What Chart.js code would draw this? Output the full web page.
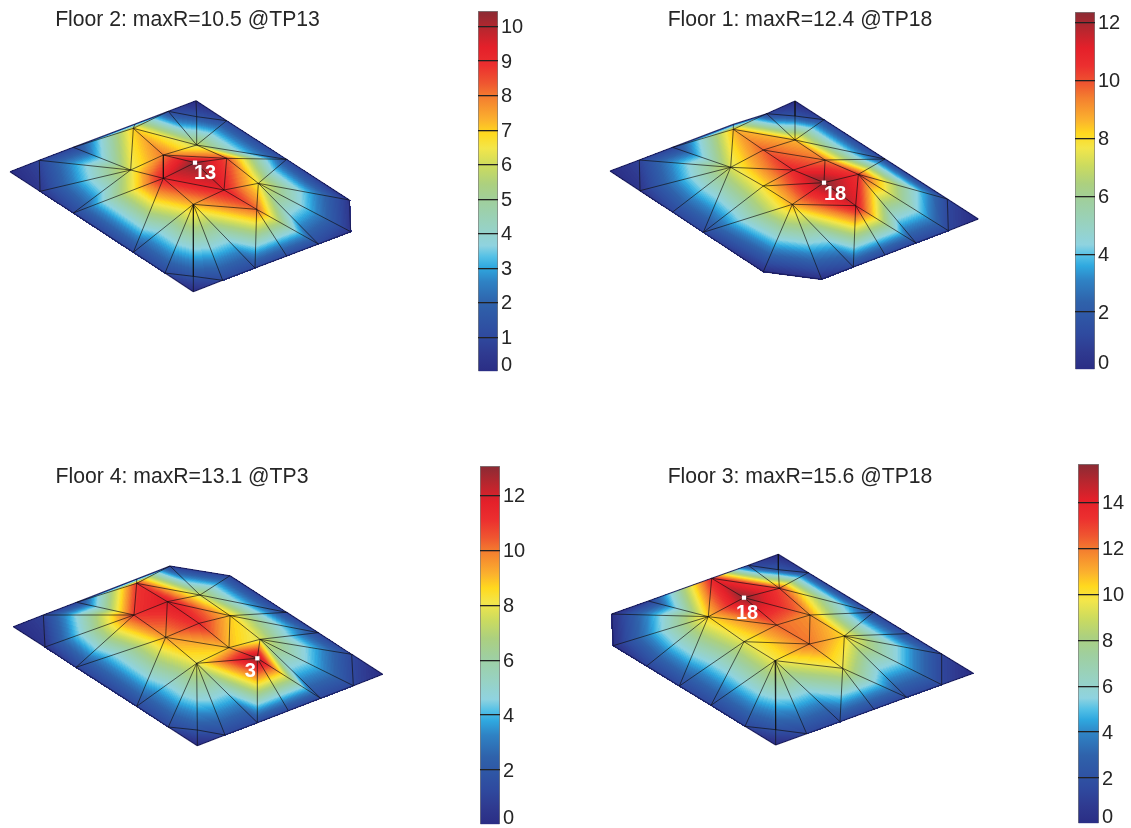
<!DOCTYPE html>
<html>
<head>
<meta charset="utf-8">
<title>Floor response maps</title>
<style>
  html, body { margin: 0; padding: 0; background: #fff; }
  body { position: relative; width: 1131px; height: 828px; overflow: hidden; }
  canvas { position: absolute; }
</style>
<script src="https://cdn.jsdelivr.net/npm/chart.js@4"></script>
</head>
<body>
<script>
// mesh nodes: plan position and R value at each node
var floor2X = [30,118,220,400,505,588,680,860,1048,1052,955,860,765,668,580,495,400,220,120,392,490,590,680,585,490,672,775,580,770,590,580,405];
var floor2Y = [245,211,172,115,64,32,92,208,330,425,462,498,534,571,605,549,487,369,304,240,195,165,205,218,265,300,280,343,358,80,559,102];
var floor2R = [0,.9,.9,7,1,0,1,1,.4,.4,1,1,1,1,0,1,1,.9,.4,6.3,8,6,8.5,10.5,9.3,9.3,6.5,7.3,8.2,1.4,1.4,2];
var floor2Tri = [[0,1,18],[1,18,19],[1,2,19],[2,3,19],[2,31,3],[31,4,3],[3,19,20],[3,20,21],[3,4,21],[4,29,21],[4,5,29],[5,6,29],[29,6,21],[6,7,21],[21,7,22],[20,21,22],[20,22,23],[19,20,24],[20,23,24],[23,24,25],[22,23,25],[22,25,26],[7,22,26],[7,8,26],[8,9,26],[9,10,26],[10,26,28],[10,11,28],[11,12,28],[12,27,28],[25,26,28],[25,27,28],[24,25,27],[12,13,27],[13,27,30],[13,14,30],[14,15,30],[15,27,30],[15,16,27],[16,24,27],[16,17,24],[17,19,24],[17,18,19]];

var floor1X = [30,118,218,400,500,585,672,855,1042,1135,1045,948,855,760,665,490,310,218,120,392,490,585,675,580,672,775,490,577,767,585,400];
var floor1Y = [243,210,172,118,71,33,89,207,327,387,422,459,495,531,568,545,427,366,302,232,180,150,210,240,278,253,288,343,347,78,103];
var floor1R = [0,1,1,8.6,1.1,0,1.1,1.1,1.1,0,1.1,1.1,1.1,1.1,.2,.2,1.1,1.1,.4,7.3,9.8,8.6,9.5,10.8,12.4,10.5,8,8.8,11.3,1.6,2];
var floor1Tri = [[0,1,18],[1,18,19],[1,2,19],[2,3,19],[2,30,3],[30,4,3],[3,19,20],[3,20,21],[3,4,21],[4,29,21],[4,5,29],[5,6,29],[29,6,21],[6,7,21],[21,7,22],[20,21,22],[20,22,23],[19,20,23],[19,23,26],[23,24,26],[22,23,24],[22,24,25],[7,22,25],[7,8,25],[8,9,10],[8,10,25],[10,11,25],[11,25,28],[24,25,28],[11,12,28],[12,13,28],[13,27,28],[24,27,28],[24,26,27],[13,14,27],[14,15,27],[15,16,27],[16,26,27],[16,19,26],[16,17,19],[17,18,19]];

var floor4X = [40,130,230,410,510,690,860,955,1055,1148,1060,962,865,772,675,592,505,410,228,135,402,600,502,690,597,497,780,687,772,590,592,410];
var floor4Y = [215,180,142,85,33,62,172,233,298,358,392,430,467,503,540,572,516,454,337,276,180,120,140,182,205,247,253,278,310,325,525,72];
var floor4R = [0,1,1,11,.8,1,1,1.2,1.2,0,1.2,1.2,1.2,1.2,1.2,0,1.2,1.2,1,.4,11,7.5,12,8.8,11.3,9.5,7.8,9,13.1,8,1.8,2.2];
var floor4Tri = [[0,1,19],[1,19,20],[1,2,20],[2,3,20],[2,31,3],[31,4,3],[3,20,22],[3,21,22],[3,4,21],[4,5,21],[5,6,21],[21,6,23],[21,22,23],[6,7,23],[7,23,26],[7,8,26],[8,9,10],[8,10,26],[10,11,26],[11,26,28],[11,12,28],[12,13,28],[13,28,29],[13,14,29],[14,29,30],[14,15,30],[15,16,30],[16,29,30],[16,17,29],[17,25,29],[17,18,25],[18,20,25],[18,19,20],[20,22,25],[22,24,25],[22,23,24],[23,24,27],[23,26,27],[24,25,27],[25,27,29],[27,28,29],[26,27,28]];

var floor3X = [35,40,140,238,333,435,527,620,720,822,920,1025,1120,1025,925,820,625,535,445,335,145,325,432,538,630,530,432,628,733,525,728,535,527];
var floor3Y = [207,302,363,423,481,544,600,566,530,493,457,419,385,327,266,202,83,28,61,100,168,215,158,130,210,240,290,297,273,347,370,74,554];
var floor3R = [.2,.2,1.2,1.4,1.4,1.4,0,1.4,1.4,1.4,1.4,1.4,0,1.4,1.4,1.4,1.4,0,1.4,13.8,1,10.5,15.6,13,11.5,12.3,9.5,12,10.3,9.7,9.5,2.2,2];
var floor3Tri = [[0,20,21],[0,1,21],[1,2,21],[2,3,21],[3,21,26],[3,4,26],[4,26,29],[4,5,29],[5,29,32],[5,6,32],[6,7,32],[7,29,32],[7,8,29],[8,29,30],[8,9,30],[9,10,30],[10,28,30],[10,11,28],[11,13,28],[11,12,13],[13,14,28],[14,15,28],[15,24,28],[15,23,24],[15,16,23],[16,23,31],[16,17,31],[17,18,31],[18,23,31],[18,19,23],[19,22,23],[19,21,22],[19,20,21],[22,23,24],[22,24,25],[21,22,25],[21,25,26],[25,26,27],[24,25,27],[24,27,28],[26,27,29],[27,29,30],[27,28,30]];

// colorbar ranges and ticks
var floor2Max = 10.45, floor1Max = 12.37, floor4Max = 13.07, floor3Max = 15.67;
var floor2Ticks = [0,1,2,3,4,5,6,7,8,9,10];
var floor1Ticks = [0,2,4,6,8,10,12];
var floor4Ticks = [0,2,4,6,8,10,12];
var floor3Ticks = [0,2,4,6,8,10,12,14];

// colormap
var colorStops = [0,.05,.1,.19,.25,.29,.32,.35,.4,.47,.52,.57,.62,.66,.7,.76,.8,.85,.9,.95,1];
var colorHex = ['#2a2d84','#2f3a90','#2f4a9f','#2f62ab','#2f82c4','#2fa8df','#55c1e6','#8fd3e0','#97d2c4','#9fcf9f','#acd07f','#cbdb5f','#f3e64a','#ffd91e','#fbb02e','#f47f2f','#ef5630','#ec2f2f','#e4202a','#b8262e','#8a2b34'];

var panels = [
  { title: 'Floor 2: maxR=10.5 @TP13', x: floor2X, y: floor2Y, r: floor2R, tri: floor2Tri, peak: 23, label: '13', labelDx: 10, labelDy: 11,
    left: 0, top: 0, width: 375, height: 300, cropX: 0, cropY: 90,
    max: floor2Max, ticks: floor2Ticks, barLeft: 478, barTop: 11, barWidth: 20, barBottom: 372 },
  { title: 'Floor 1: maxR=12.4 @TP18', x: floor1X, y: floor1Y, r: floor1R, tri: floor1Tri, peak: 24, label: '18', labelDx: 11, labelDy: 12,
    left: 600, top: 0, width: 400, height: 300, cropX: 600, cropY: 90,
    max: floor1Max, ticks: floor1Ticks, barLeft: 1075, barTop: 12, barWidth: 20, barBottom: 370 },
  { title: 'Floor 4: maxR=13.1 @TP3', x: floor4X, y: floor4Y, r: floor4R, tri: floor4Tri, peak: 28, label: '3', labelDx: -7, labelDy: 13,
    left: -30, top: 457, width: 424, height: 310, cropX: 0, cropY: 555,
    max: floor4Max, ticks: floor4Ticks, barLeft: 480, barTop: 465.5, barWidth: 20, barBottom: 825 },
  { title: 'Floor 3: maxR=15.6 @TP18', x: floor3X, y: floor3Y, r: floor3R, tri: floor3Tri, peak: 22, label: '18', labelDx: 3, labelDy: 16,
    left: 600, top: 457, width: 400, height: 310, cropX: 600, cropY: 545,
    max: floor3Max, ticks: floor3Ticks, barLeft: 1078, barTop: 464, barWidth: 21, barBottom: 824 }
];

var fontName = '"Liberation Sans", Arial, sans-serif';

function hexRgb(h) {
  return [parseInt(h.substr(1, 2), 16), parseInt(h.substr(3, 2), 16), parseInt(h.substr(5, 2), 16)];
}

// lookup table from the colormap stops
var lut = [];
(function () {
  for (var i = 0; i < 128; i++) {
    var f = i / 127, k = 0;
    while (k < colorStops.length - 2 && f > colorStops[k + 1]) k++;
    var t = (f - colorStops[k]) / (colorStops[k + 1] - colorStops[k]);
    var a = hexRgb(colorHex[k]), b = hexRgb(colorHex[k + 1]);
    lut.push([a[0] + (b[0] - a[0]) * t, a[1] + (b[1] - a[1]) * t, a[2] + (b[2] - a[2]) * t]);
  }
})();

function addCanvas(left, top, w, h) {
  var c = document.createElement('canvas');
  c.width = w;
  c.height = h;
  c.style.left = left + 'px';
  c.style.top = top + 'px';
  document.body.appendChild(c);
  return c;
}

// mesh edges as line data, NaN points break the line.
// an edge used by only one triangle is on the outline of the floor
function edgePoints(p, outline) {
  var count = {}, pts = [];
  p.tri.forEach(function (t) {
    [[t[0], t[1]], [t[1], t[2]], [t[2], t[0]]].forEach(function (e) {
      var key = Math.min(e[0], e[1]) + '_' + Math.max(e[0], e[1]);
      count[key] = (count[key] || 0) + 1;
    });
  });
  Object.keys(count).forEach(function (key) {
    if ((count[key] === 1) !== outline) return;
    var ab = key.split('_');
    pts.push({ x: p.x[ab[0]], y: p.y[ab[0]] }, { x: p.x[ab[1]], y: p.y[ab[1]] }, { x: NaN, y: NaN });
  });
  return pts;
}

// gouraud shading of the triangles, done with the chart's own scales
var meshPlugin = {
  id: 'meshPlugin',
  beforeDatasetsDraw: function (chart, args, opts) {
    var p = opts.panel, sx = chart.scales.x, sy = chart.scales.y;
    var w = chart.width, h = chart.height;
    var off = document.createElement('canvas');
    off.width = w;
    off.height = h;
    var octx = off.getContext('2d');
    var img = octx.createImageData(w, h);
    var px = p.x.map(function (v) { return sx.getPixelForValue(v); });
    var py = p.y.map(function (v) { return sy.getPixelForValue(v); });
    p.tri.forEach(function (t) {
      var x0 = px[t[0]], y0 = py[t[0]], x1 = px[t[1]], y1 = py[t[1]], x2 = px[t[2]], y2 = py[t[2]];
      var d = (y1 - y2) * (x0 - x2) + (x2 - x1) * (y0 - y2);
      if (!d) return;
      var minX = Math.max(0, Math.floor(Math.min(x0, x1, x2))), maxX = Math.min(w - 1, Math.ceil(Math.max(x0, x1, x2)));
      var minY = Math.max(0, Math.floor(Math.min(y0, y1, y2))), maxY = Math.min(h - 1, Math.ceil(Math.max(y0, y1, y2)));
      for (var yy = minY; yy <= maxY; yy++) {
        for (var xx = minX; xx <= maxX; xx++) {
          var a = ((y1 - y2) * (xx + .5 - x2) + (x2 - x1) * (yy + .5 - y2)) / d;
          var b = ((y2 - y0) * (xx + .5 - x2) + (x0 - x2) * (yy + .5 - y2)) / d;
          var c = 1 - a - b;
          if (a < -.01 || b < -.01 || c < -.01) continue;
          var v = a * p.r[t[0]] + b * p.r[t[1]] + c * p.r[t[2]];
          var f = Math.min(1, Math.max(0, v / p.max));
          var col = lut[Math.round(f * 127)];
          var o = (yy * w + xx) * 4;
          img.data[o] = col[0];
          img.data[o + 1] = col[1];
          img.data[o + 2] = col[2];
          img.data[o + 3] = 255;
        }
      }
    });
    octx.putImageData(img, 0, 0);
    var ctx = chart.ctx;
    ctx.save();
    ctx.filter = 'blur(0.6px)';
    ctx.drawImage(off, 0, 0);
    ctx.restore();
  },
  afterDatasetsDraw: function (chart, args, opts) {
    var p = opts.panel, ctx = chart.ctx;
    var lx = chart.scales.x.getPixelForValue(p.x[p.peak]) + p.labelDx;
    var ly = chart.scales.y.getPixelForValue(p.y[p.peak]) + p.labelDy;
    ctx.save();
    ctx.fillStyle = '#fff';
    ctx.font = 'bold 20px ' + fontName;
    ctx.textAlign = 'center';
    ctx.textBaseline = 'middle';
    ctx.fillText(p.label, lx, ly);
    ctx.restore();
  }
};

function drawMesh(p) {
  var canvas = addCanvas(p.left, p.top, p.width, p.height);
  new Chart(canvas.getContext('2d'), {
    type: 'scatter',
    plugins: [meshPlugin],
    data: {
      datasets: [
        { data: [{ x: p.x[p.peak], y: p.y[p.peak] }], pointStyle: 'rect', pointRadius: 3, backgroundColor: '#fff', borderColor: '#fff', borderWidth: 0 },
        { data: edgePoints(p, false), showLine: true, borderColor: 'rgba(15,15,15,0.72)', borderWidth: 0.9, pointRadius: 0, tension: 0, spanGaps: false },
        { data: edgePoints(p, true), showLine: true, borderColor: 'rgba(25,28,90,0.9)', borderWidth: 1.1, pointRadius: 0, tension: 0, spanGaps: false }
      ]
    },
    options: {
      responsive: false,
      animation: false,
      events: [],
      layout: { padding: 0, autoPadding: false },
      scales: {
        x: { display: false, bounds: 'data', min: (p.left - p.cropX) * 3, max: (p.left + p.width - p.cropX) * 3 },
        y: { display: false, bounds: 'data', reverse: true, min: (p.top + 32 - p.cropY) * 3, max: (p.top + p.height - p.cropY) * 3 }
      },
      plugins: {
        legend: { display: false },
        tooltip: { enabled: false },
        meshPlugin: { panel: p },
        title: {
          display: true,
          text: p.title,
          color: '#262626',
          font: { family: fontName, size: 21.2, weight: 'normal', lineHeight: 1.09 },
          padding: { top: 8.9, bottom: 0 }
        }
      }
    }
  });
}

function drawColorbar(p) {
  var pad = 40;
  var canvas = addCanvas(p.barLeft, p.barTop - pad, p.barWidth + 40, p.barBottom - p.barTop + pad * 2);
  new Chart(canvas.getContext('2d'), {
    type: 'bar',
    data: {
      labels: [''],
      datasets: [{
        data: [[0, p.max]],
        barPercentage: 1,
        categoryPercentage: 1,
        borderWidth: 1,
        borderColor: '#7d7d7d',
        backgroundColor: function (ctx) {
          var area = ctx.chart.chartArea;
          if (!area) return '#888';
          var g = ctx.chart.ctx.createLinearGradient(0, area.bottom, 0, area.top);
          colorStops.forEach(function (s, i) { g.addColorStop(s, colorHex[i]); });
          return g;
        }
      }]
    },
    options: {
      responsive: false,
      animation: false,
      events: [],
      layout: { padding: { top: pad, bottom: pad, left: 0, right: 0 } },
      scales: {
        x: { display: false },
        y: {
          position: 'right',
          min: 0,
          max: p.max,
          bounds: 'data',
          afterFit: function (scale) { scale.width = 40; },
          afterBuildTicks: function (scale) {
            scale.ticks = p.ticks.map(function (v) { return { value: v }; });
          },
          border: { display: false },
          grid: {
            z: 1,
            drawTicks: false,
            lineWidth: 1.3,
            color: function (ctx) { return ctx.tick.value === 0 ? 'rgba(0,0,0,0)' : '#222'; }
          },
          ticks: {
            autoSkip: false,
            padding: 3,
            labelOffset: 1,
            color: '#262626',
            // the 0 label sits above the bar's lower end
            callback: function (v) { return v === 0 ? ['0', ''] : String(v); },
            font: function (ctx) {
              return { family: fontName, size: 20, lineHeight: ctx.tick && ctx.tick.value === 0 ? 0.75 : 1.2 };
            }
          }
        }
      },
      plugins: { legend: { display: false }, tooltip: { enabled: false } }
    }
  });
}

panels.forEach(function (p) {
  drawMesh(p);
  drawColorbar(p);
});
</script>
</body>
</html>
